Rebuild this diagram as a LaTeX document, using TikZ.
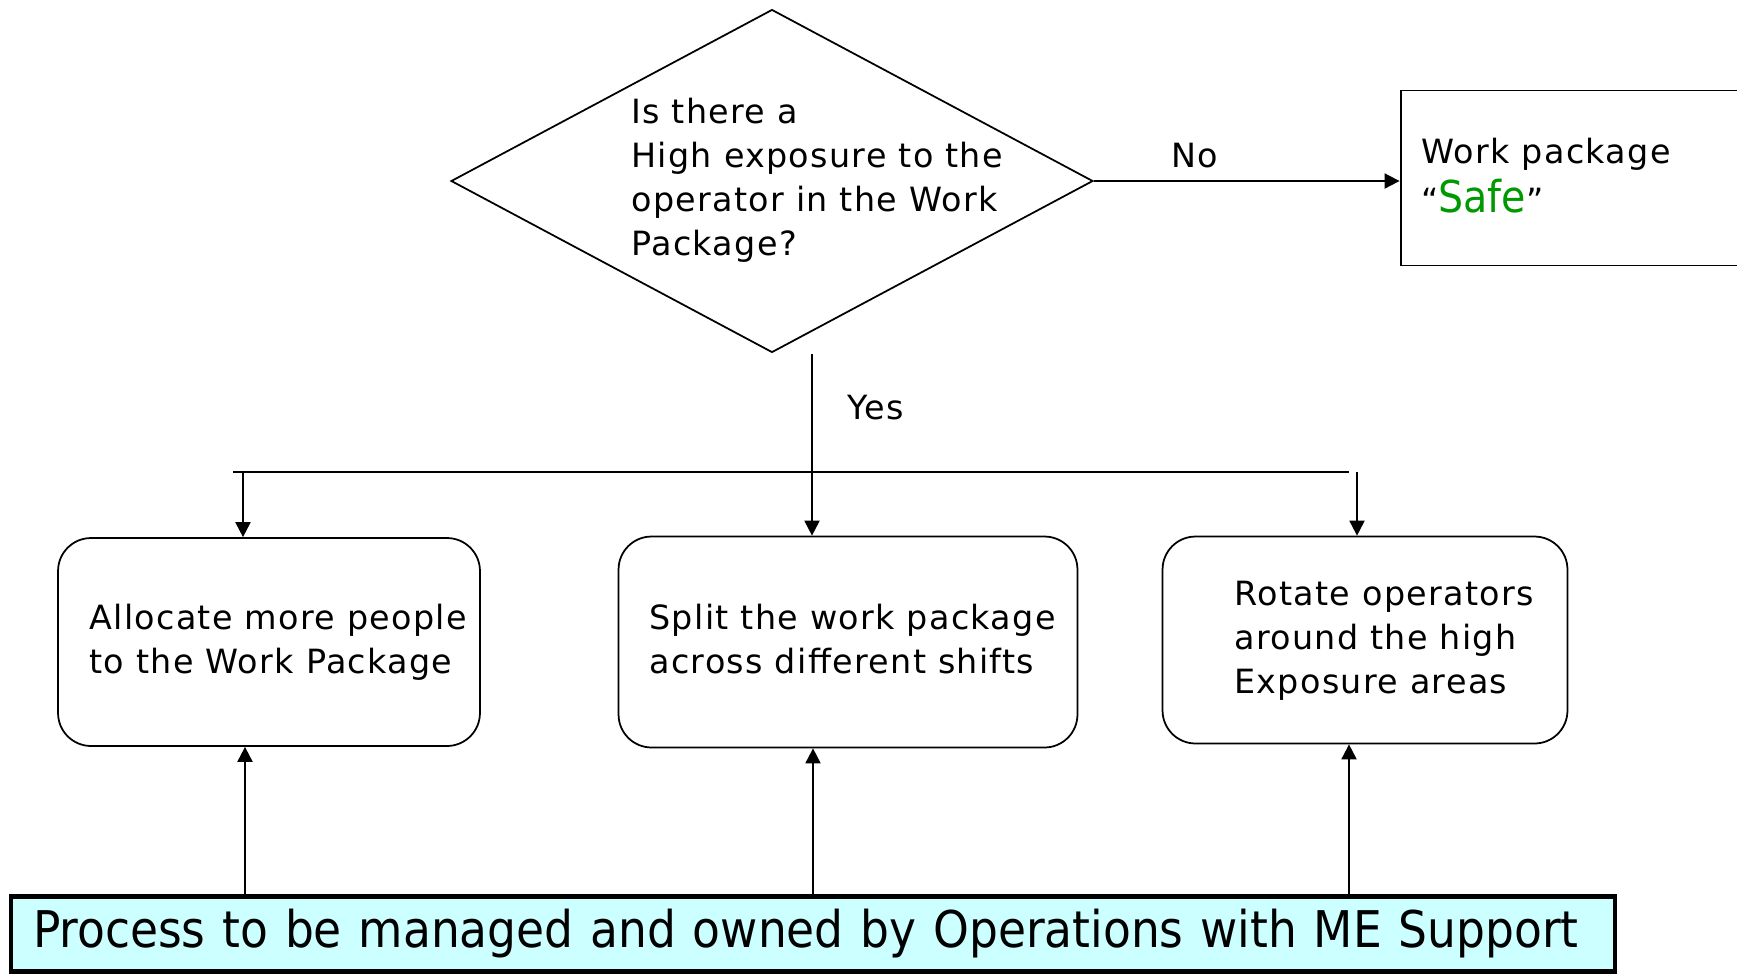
\documentclass[tikz,border=0pt]{standalone}
\usepackage{fontspec}
\setmainfont{DejaVu Sans}[LetterSpace=4]
\newfontfamily\barFont{DejaVu Sans Condensed}
\usetikzlibrary{arrows.meta, shapes.geometric, positioning}
\definecolor{safeGreen}{HTML}{009900}
\definecolor{barCyan}{HTML}{CCFFFF}
\tikzset{
    flowText/.style={font=\fontsize{19}{25}\selectfont, align=left, inner sep=0pt},
    decision/.style={diamond, draw, line width=1pt, inner sep=0pt, minimum width=12.84cm, minimum height=6.86cm},
    stepBox/.style={rectangle, rounded corners=0.66cm, draw, line width=1pt},
    safeBox/.style={rectangle, draw, line width=1.1pt, minimum width=7.18cm, minimum height=3.5cm},
    supportBar/.style={rectangle, draw, line width=2.4pt, fill=barCyan, font=\barFont\fontsize{28.8}{32}\selectfont, align=left, text width=31.2cm, inner xsep=0.44cm, minimum height=1.5cm},
    flowLine/.style={line width=1.1pt},
    flowArrow/.style={line width=1.1pt, -{Triangle[width=0.3cm, length=0.3cm]}},
}
\newcommand{\safeWord}[1]{``{\color{safeGreen}\barFont\fontsize{25}{25}\selectfont #1}''}

\begin{document}
\begin{tikzpicture}[x=0.02cm, y=-0.02cm]
    \useasboundingbox (0,0) rectangle (1737,975);
    \clip (0,0) rectangle (1737,975);

    \node[decision] (q) at (772,181) {};
    \node[flowText, anchor=west] (qText) at (631,180) {Is there a\\High exposure to the\\operator in the Work\\Package?};
    \node[safeBox] (safe) at (1580,178) {};
    \node[flowText, anchor=west] (safeText) at (1421,176) {Work package\\[3pt]\safeWord{Safe}};

    \node[stepBox, minimum width=8.44cm, minimum height=4.16cm] (allocate) at (269,642) {};
    \node[stepBox, minimum width=9.18cm, minimum height=4.22cm] (split) at (848,642) {};
    \node[stepBox, minimum width=8.1cm, minimum height=4.14cm] (rotateBox) at (1365,640) {};
    \node[flowText, anchor=west] (allocateText) at (89,642) {Allocate more people\\to the Work Package};
    \node[flowText, anchor=west] (splitText) at (649,639) {Split the work package\\across different shifts};
    \node[flowText, anchor=west] (rotateText) at (1234,641) {Rotate operators\\around the high\\Exposure areas};

    \node[supportBar] (bar) at (813,934) {Process to be managed and owned by Operations with ME Support};

    % decision exits
    \draw[flowArrow] (q.east) -- node[flowText, above=0.25cm, pos=0.33] (noLabel) {No} (q.east -| safe.west);
    \coordinate (yes) at (812,354);
    \draw[flowArrow] (yes) -- (yes |- split.north);
    \node[flowText, anchor=west] (yesLabel) at (847,408) {Yes};

    % fan out to the three options
    \coordinate (fanL) at (233,472);
    \coordinate (fanR) at (1349,472);
    \draw[flowLine] (fanL) -- (fanR);
    \coordinate (dropL) at (243,472);
    \coordinate (dropR) at (1357,472);
    \draw[flowArrow] (dropL) -- (dropL |- allocate.north);
    \draw[flowArrow] (dropR) -- (dropR |- rotateBox.north);

    % support from below
    \foreach \x/\target in {245/allocate, 813/split, 1349/rotateBox} {
        \coordinate (base) at (\x,0 |- bar.north);
        \draw[flowArrow] (base) -- (base |- \target.south);
    }

\end{tikzpicture}
\end{document}
